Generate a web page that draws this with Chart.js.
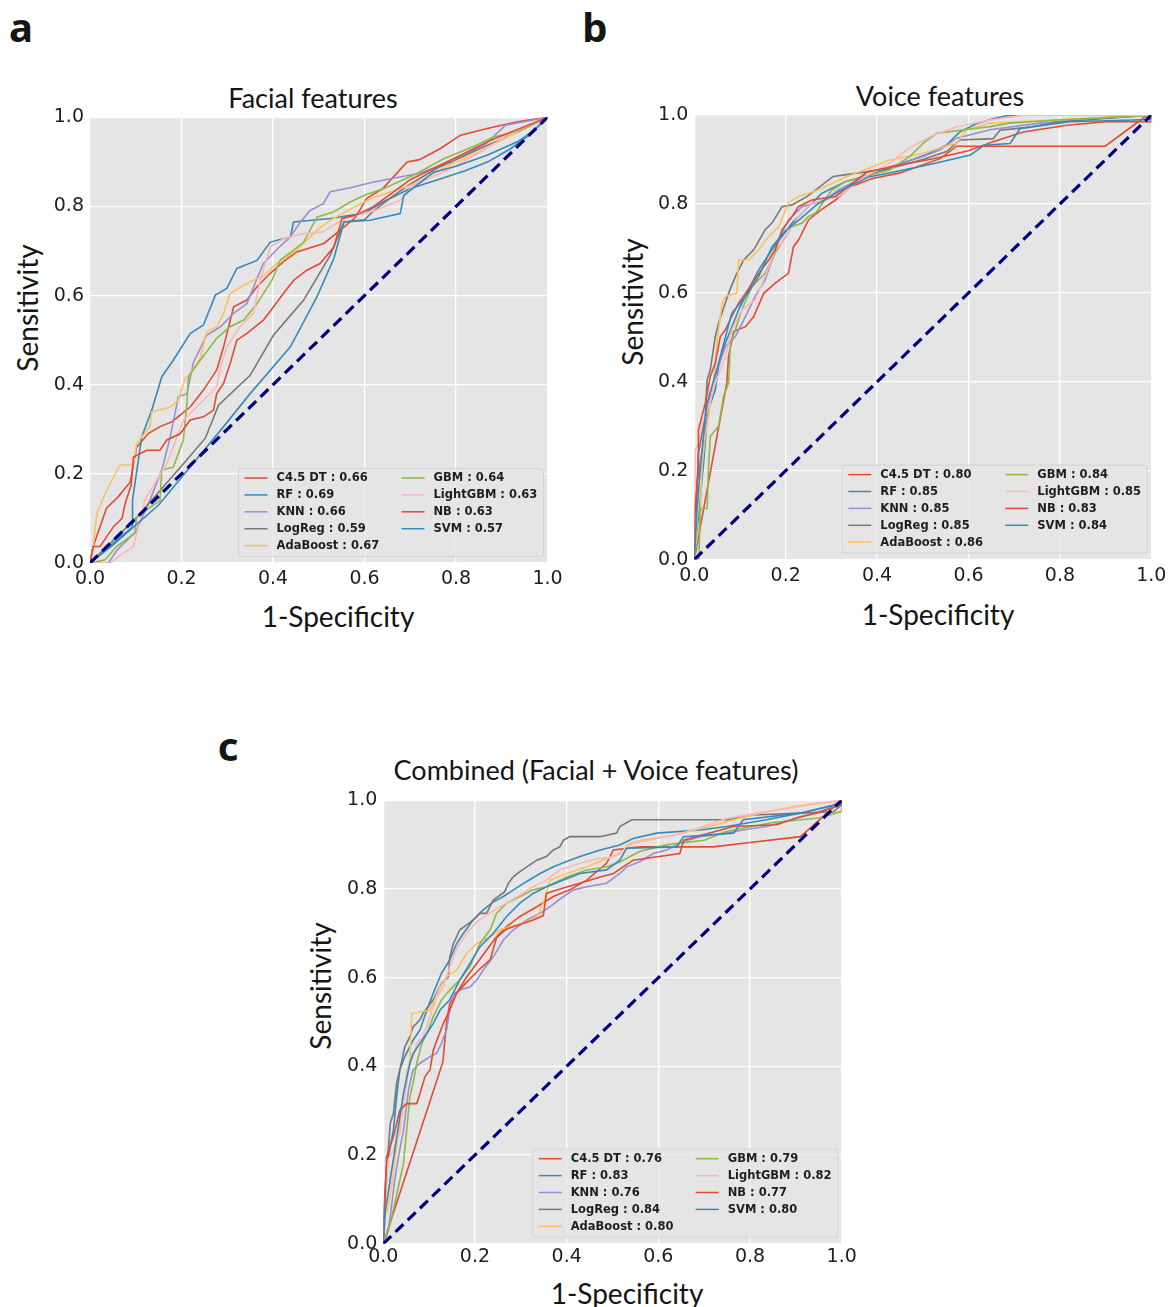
<!DOCTYPE html>
<html>
<head>
<meta charset="utf-8">
<title>ROC curves</title>
<script src="https://cdn.jsdelivr.net/npm/chart.js@4.4.1/dist/chart.umd.min.js"></script>
<style>
  html, body { margin: 0; padding: 0; background: #fff; }
  body { position: relative; width: 1168px; height: 1307px; overflow: hidden; }
  canvas { position: absolute; }
  .txt { position: absolute; white-space: nowrap; color: #151515; font-family: Lato, "Open Sans", sans-serif; font-size: 27px; transform: translate(-50%, -50%); line-height: 1; }
  .rot { transform: translate(-50%, -50%) rotate(-90deg); font-size: 28px; }
  .letter { font-family: "Noto Sans", sans-serif; font-weight: 700; font-size: 40px; }
</style>
</head>
<body>
<div class="txt letter" style="left:21px; top:27px;">a</div>
<div class="txt letter" style="left:595px; top:27px;">b</div>
<div class="txt letter" style="left:228px; top:746px;">c</div>

<div class="txt" style="left:313px; top:97px;">Facial features</div>
<div class="txt" style="left:940px; top:95px;">Voice features</div>
<div class="txt" style="left:596px; top:769px;">Combined (Facial + Voice features)</div>

<div class="txt rot" style="left:27px; top:308px;">Sensitivity</div>
<div class="txt rot" style="left:632px; top:302px;">Sensitivity</div>
<div class="txt rot" style="left:320px; top:986px;">Sensitivity</div>
<div class="txt" style="left:338px; top:616px; font-size:28px;">1-Specificity</div>
<div class="txt" style="left:938px; top:614px; font-size:28px;">1-Specificity</div>
<div class="txt" style="left:627px; top:1293px; font-size:28px;">1-Specificity</div>

<canvas id="facialChart" width="530" height="500" style="left:40px; top:100px;"></canvas>
<canvas id="voiceChart" width="532" height="500" style="left:636px; top:100px;"></canvas>
<canvas id="combinedChart" width="532" height="510" style="left:326px; top:785px;"></canvas>

<script>
// 모델 이름과 AUC 값
const modelNames = ['C4.5 DT', 'RF', 'KNN', 'LogReg', 'AdaBoost', 'GBM', 'LightGBM', 'NB', 'SVM'];
const facialAuc = ['0.66', '0.69', '0.66', '0.59', '0.67', '0.64', '0.63', '0.63', '0.57'];
const voiceAuc = ['0.80', '0.85', '0.85', '0.85', '0.86', '0.84', '0.85', '0.83', '0.84'];
const combinedAuc = ['0.76', '0.83', '0.76', '0.84', '0.80', '0.79', '0.82', '0.77', '0.80'];

// 축 눈금
const axisTicks = [0, 0.2, 0.4, 0.6, 0.8, 1.0];

// 대각선 (기준선)
const diagonalLine = [[0, 0], [1, 1]];

// a: 얼굴 특징 ROC 곡선 [1-특이도, 민감도]
const facialC45 = [[0,0],[0.007,0.037],[0.036,0.123],[0.062,0.149],[0.088,0.182],[0.102,0.26],[0.128,0.291],[0.153,0.306],[0.179,0.317],[0.219,0.35],[0.248,0.388],[0.277,0.433],[0.292,0.485],[0.314,0.575],[0.343,0.59],[0.365,0.62],[0.394,0.65],[0.423,0.676],[0.452,0.698],[0.511,0.717],[0.547,0.747],[0.58,0.775],[0.605,0.818],[0.64,0.84],[0.693,0.9],[0.72,0.905],[0.766,0.93],[0.81,0.96],[0.868,0.975],[0.934,0.99],[1,1]];
const facialRF = [[0,0],[0.093,0.081],[0.093,0.141],[0.113,0.283],[0.135,0.343],[0.157,0.418],[0.182,0.455],[0.219,0.515],[0.248,0.534],[0.274,0.601],[0.299,0.616],[0.321,0.661],[0.365,0.679],[0.394,0.72],[0.438,0.732],[0.445,0.765],[0.525,0.773],[0.6,0.785],[0.64,0.81],[0.7,0.84],[0.76,0.86],[0.82,0.88],[0.87,0.9],[0.92,0.93],[0.96,0.96],[1,1]];
const facialKNN = [[0,0],[0.04,0],[0.06,0.03],[0.1,0.07],[0.131,0.141],[0.157,0.209],[0.175,0.281],[0.193,0.373],[0.212,0.38],[0.226,0.45],[0.255,0.511],[0.285,0.53],[0.314,0.56],[0.343,0.582],[0.365,0.638],[0.379,0.672],[0.415,0.71],[0.438,0.732],[0.46,0.765],[0.481,0.791],[0.51,0.806],[0.525,0.833],[0.569,0.842],[0.62,0.855],[0.718,0.874],[0.79,0.9],[0.864,0.94],[0.908,0.982],[1,1]];
const facialLogReg = [[0,0],[0.1,0.1],[0.208,0.227],[0.252,0.28],[0.281,0.354],[0.35,0.421],[0.401,0.511],[0.467,0.59],[0.525,0.69],[0.555,0.765],[0.6,0.77],[0.62,0.79],[0.664,0.825],[0.7,0.85],[0.757,0.885],[0.81,0.91],[0.868,0.937],[0.934,0.967],[1,1]];
const facialAdaBoost = [[0,0],[0.007,0.037],[0.015,0.11],[0.033,0.156],[0.055,0.2],[0.066,0.22],[0.095,0.22],[0.102,0.268],[0.131,0.306],[0.135,0.339],[0.175,0.35],[0.193,0.365],[0.208,0.414],[0.219,0.425],[0.241,0.46],[0.255,0.519],[0.277,0.53],[0.292,0.56],[0.306,0.605],[0.35,0.631],[0.38,0.645],[0.408,0.672],[0.452,0.702],[0.496,0.747],[0.525,0.769],[0.58,0.8],[0.62,0.82],[0.711,0.851],[0.78,0.89],[0.85,0.922],[0.926,0.963],[1,1]];
const facialGBM = [[0,0],[0.033,0.007],[0.058,0.037],[0.098,0.067],[0.102,0.104],[0.153,0.14],[0.157,0.209],[0.182,0.215],[0.204,0.276],[0.212,0.36],[0.215,0.418],[0.241,0.455],[0.277,0.504],[0.306,0.53],[0.336,0.545],[0.365,0.582],[0.398,0.635],[0.416,0.68],[0.445,0.702],[0.467,0.72],[0.496,0.776],[0.533,0.788],[0.569,0.81],[0.6,0.825],[0.642,0.84],[0.707,0.87],[0.773,0.907],[0.84,0.935],[0.882,0.956],[0.94,0.97],[1,1]];
const facialLightGBM = [[0,0],[0.044,0],[0.07,0.02],[0.095,0.037],[0.12,0.141],[0.146,0.186],[0.168,0.223],[0.204,0.32],[0.233,0.35],[0.277,0.395],[0.285,0.44],[0.299,0.485],[0.328,0.53],[0.357,0.56],[0.372,0.634],[0.394,0.709],[0.423,0.728],[0.467,0.739],[0.51,0.743],[0.555,0.773],[0.62,0.79],[0.678,0.814],[0.707,0.847],[0.788,0.885],[0.854,0.922],[0.912,0.96],[1,1]];
const facialNB = [[0,0],[0.007,0.037],[0.022,0.037],[0.051,0.081],[0.07,0.1],[0.077,0.134],[0.09,0.175],[0.095,0.238],[0.124,0.253],[0.153,0.253],[0.168,0.276],[0.197,0.29],[0.219,0.321],[0.248,0.328],[0.27,0.343],[0.277,0.38],[0.292,0.403],[0.307,0.45],[0.321,0.5],[0.343,0.515],[0.379,0.545],[0.394,0.565],[0.423,0.605],[0.445,0.634],[0.474,0.657],[0.503,0.672],[0.533,0.709],[0.551,0.773],[0.58,0.78],[0.62,0.8],[0.66,0.83],[0.7,0.86],[0.76,0.89],[0.82,0.92],[0.88,0.95],[0.94,0.975],[1,1]];
const facialSVM = [[0,0],[0.05,0.04],[0.15,0.13],[0.292,0.306],[0.35,0.38],[0.438,0.485],[0.496,0.597],[0.533,0.683],[0.555,0.765],[0.612,0.769],[0.678,0.784],[0.686,0.825],[0.751,0.877],[0.8,0.89],[0.868,0.915],[0.934,0.945],[0.97,0.97],[1,1]];

// b: 음성 특징 ROC 곡선
const voiceC45 = [[0,0],[0.071,0.397],[0.075,0.457],[0.086,0.513],[0.112,0.524],[0.13,0.547],[0.152,0.599],[0.177,0.622],[0.206,0.644],[0.217,0.704],[0.228,0.719],[0.25,0.764],[0.275,0.785],[0.309,0.809],[0.341,0.838],[0.388,0.857],[0.45,0.87],[0.487,0.883],[0.538,0.902],[0.574,0.93],[0.899,0.93],[0.985,0.995],[1,1]];
const voiceRF = [[0,0],[0.006,0.04],[0.013,0.134],[0.024,0.262],[0.028,0.329],[0.046,0.382],[0.053,0.434],[0.068,0.487],[0.097,0.562],[0.126,0.622],[0.141,0.652],[0.17,0.697],[0.192,0.727],[0.214,0.757],[0.243,0.787],[0.279,0.824],[0.33,0.85],[0.4,0.87],[0.45,0.89],[0.505,0.91],[0.551,0.932],[0.581,0.962],[0.618,0.981],[0.654,0.992],[0.69,1],[1,1]];
const voiceKNN = [[0,0],[0.002,0.06],[0.006,0.17],[0.017,0.247],[0.031,0.352],[0.05,0.427],[0.068,0.479],[0.09,0.502],[0.112,0.547],[0.133,0.592],[0.155,0.629],[0.185,0.719],[0.206,0.764],[0.236,0.794],[0.287,0.809],[0.316,0.832],[0.37,0.86],[0.428,0.884],[0.501,0.907],[0.538,0.922],[0.574,0.948],[0.647,0.967],[0.756,0.982],[0.939,0.997],[1,1]];
const voiceLogReg = [[0,0],[0.002,0.059],[0.009,0.24],[0.024,0.322],[0.028,0.404],[0.035,0.427],[0.046,0.502],[0.053,0.532],[0.075,0.599],[0.09,0.637],[0.108,0.674],[0.13,0.697],[0.155,0.742],[0.17,0.757],[0.192,0.794],[0.214,0.798],[0.247,0.817],[0.304,0.862],[0.36,0.87],[0.428,0.88],[0.5,0.9],[0.552,0.918],[0.581,0.944],[0.654,0.947],[0.669,0.966],[0.735,0.973],[0.8,0.985],[1,1]];
const voiceAdaBoost = [[0,0],[0.002,0.022],[0.013,0.097],[0.017,0.209],[0.024,0.28],[0.031,0.322],[0.042,0.4],[0.05,0.494],[0.061,0.577],[0.068,0.592],[0.093,0.6],[0.097,0.674],[0.119,0.674],[0.141,0.697],[0.163,0.727],[0.185,0.749],[0.206,0.802],[0.228,0.817],[0.272,0.832],[0.33,0.86],[0.428,0.899],[0.501,0.914],[0.574,0.937],[0.596,0.967],[0.647,0.982],[0.793,0.989],[1,1]];
const voiceGBM = [[0,0],[0.01,0],[0.013,0.115],[0.028,0.115],[0.031,0.202],[0.035,0.277],[0.053,0.3],[0.064,0.367],[0.075,0.397],[0.079,0.487],[0.09,0.517],[0.104,0.562],[0.126,0.614],[0.155,0.644],[0.177,0.69],[0.214,0.749],[0.236,0.757],[0.25,0.772],[0.265,0.779],[0.3,0.83],[0.33,0.85],[0.428,0.877],[0.472,0.907],[0.501,0.937],[0.53,0.959],[0.647,0.974],[0.69,0.982],[0.793,0.989],[1,1]];
const voiceLightGBM = [[0,0],[0.002,0.247],[0.009,0.26],[0.017,0.307],[0.031,0.344],[0.046,0.397],[0.068,0.457],[0.082,0.517],[0.104,0.562],[0.133,0.584],[0.155,0.637],[0.177,0.697],[0.197,0.719],[0.214,0.749],[0.228,0.772],[0.257,0.802],[0.316,0.817],[0.37,0.86],[0.428,0.892],[0.465,0.922],[0.516,0.952],[0.574,0.974],[0.647,0.989],[0.72,1],[1,1]];
const voiceNB = [[0,0],[0.002,0.119],[0.009,0.209],[0.009,0.292],[0.024,0.352],[0.035,0.412],[0.046,0.442],[0.057,0.502],[0.068,0.517],[0.082,0.547],[0.097,0.577],[0.112,0.599],[0.141,0.644],[0.163,0.674],[0.177,0.697],[0.192,0.742],[0.214,0.772],[0.228,0.794],[0.257,0.809],[0.309,0.817],[0.378,0.872],[0.447,0.887],[0.523,0.902],[0.6,0.92],[0.654,0.94],[0.72,0.962],[0.815,0.977],[0.9,0.985],[1,0.985],[1,1]];
const voiceSVM = [[0,0],[0.006,0.112],[0.013,0.202],[0.024,0.322],[0.028,0.352],[0.053,0.442],[0.082,0.554],[0.112,0.592],[0.141,0.637],[0.17,0.704],[0.2,0.74],[0.23,0.765],[0.27,0.8],[0.32,0.83],[0.38,0.86],[0.45,0.875],[0.52,0.89],[0.604,0.91],[0.634,0.932],[0.691,0.936],[0.713,0.97],[0.822,0.985],[1,0.99],[1,1]];

// c: 결합 특징 ROC 곡선
const combinedC45 = [[0,0],[0.13,0.41],[0.138,0.5],[0.145,0.542],[0.16,0.565],[0.182,0.602],[0.204,0.632],[0.225,0.662],[0.247,0.692],[0.269,0.715],[0.298,0.738],[0.335,0.76],[0.371,0.783],[0.407,0.798],[0.444,0.82],[0.487,0.858],[0.502,0.888],[0.56,0.895],[0.72,0.895],[0.8,0.905],[0.91,0.918],[1,1]];
const combinedRF = [[0,0],[0.002,0.09],[0.007,0.174],[0.022,0.256],[0.029,0.33],[0.036,0.392],[0.047,0.422],[0.065,0.459],[0.08,0.482],[0.095,0.527],[0.109,0.565],[0.127,0.61],[0.145,0.64],[0.16,0.677],[0.175,0.7],[0.196,0.73],[0.218,0.753],[0.24,0.771],[0.262,0.783],[0.284,0.798],[0.313,0.817],[0.342,0.835],[0.371,0.85],[0.4,0.862],[0.429,0.873],[0.473,0.888],[0.516,0.899],[0.545,0.914],[0.596,0.926],[0.691,0.933],[0.749,0.941],[0.836,0.956],[0.909,0.971],[0.982,0.989],[1,1]];
const combinedKNN = [[0,0],[0.011,0.03],[0.015,0.061],[0.025,0.144],[0.033,0.196],[0.044,0.256],[0.055,0.347],[0.065,0.392],[0.08,0.407],[0.102,0.422],[0.116,0.429],[0.127,0.452],[0.138,0.482],[0.145,0.527],[0.156,0.565],[0.167,0.572],[0.189,0.579],[0.204,0.595],[0.218,0.617],[0.24,0.647],[0.262,0.685],[0.284,0.708],[0.313,0.73],[0.342,0.745],[0.364,0.76],[0.393,0.783],[0.415,0.798],[0.444,0.805],[0.487,0.813],[0.516,0.835],[0.531,0.85],[0.56,0.862],[0.589,0.88],[0.618,0.888],[0.655,0.907],[0.691,0.918],[0.749,0.926],[0.785,0.933],[0.836,0.941],[0.942,0.971],[1,0.993],[1,1]];
const combinedLogReg = [[0,0],[0.004,0.106],[0.007,0.144],[0.011,0.211],[0.015,0.271],[0.022,0.294],[0.029,0.362],[0.036,0.392],[0.047,0.444],[0.058,0.467],[0.065,0.489],[0.08,0.505],[0.087,0.52],[0.109,0.55],[0.127,0.587],[0.142,0.602],[0.145,0.647],[0.153,0.677],[0.167,0.708],[0.182,0.719],[0.196,0.73],[0.211,0.745],[0.225,0.745],[0.24,0.775],[0.265,0.794],[0.273,0.813],[0.284,0.828],[0.298,0.839],[0.313,0.85],[0.335,0.865],[0.356,0.873],[0.371,0.888],[0.385,0.895],[0.393,0.91],[0.407,0.918],[0.473,0.918],[0.509,0.926],[0.516,0.941],[0.542,0.956],[0.749,0.956],[0.807,0.967],[0.909,0.971],[0.982,0.974],[1,0.99],[1,1]];
const combinedAdaBoost = [[0,0],[0.004,0.061],[0.011,0.083],[0.022,0.159],[0.029,0.219],[0.044,0.332],[0.051,0.362],[0.058,0.414],[0.062,0.519],[0.102,0.527],[0.124,0.58],[0.138,0.602],[0.16,0.617],[0.182,0.655],[0.204,0.677],[0.233,0.692],[0.255,0.708],[0.276,0.715],[0.305,0.723],[0.335,0.738],[0.349,0.768],[0.364,0.82],[0.4,0.835],[0.444,0.85],[0.487,0.868],[0.516,0.88],[0.538,0.903],[0.567,0.911],[0.618,0.918],[0.662,0.929],[0.713,0.941],[0.764,0.956],[0.822,0.971],[0.895,0.986],[0.945,0.993],[1,1]];
const combinedGBM = [[0,0],[0.007,0.016],[0.015,0.046],[0.022,0.076],[0.036,0.143],[0.044,0.181],[0.051,0.256],[0.058,0.332],[0.065,0.362],[0.073,0.407],[0.084,0.452],[0.095,0.474],[0.109,0.512],[0.127,0.55],[0.145,0.572],[0.167,0.595],[0.189,0.625],[0.211,0.677],[0.233,0.708],[0.247,0.745],[0.269,0.768],[0.298,0.783],[0.327,0.798],[0.356,0.805],[0.4,0.827],[0.444,0.843],[0.487,0.85],[0.516,0.861],[0.56,0.885],[0.62,0.9],[0.7,0.91],[0.75,0.93],[0.85,0.95],[0.95,0.96],[1,0.975],[1,1]];
const combinedLightGBM = [[0,0],[0.007,0.136],[0.011,0.19],[0.022,0.211],[0.036,0.25],[0.047,0.332],[0.051,0.392],[0.065,0.42],[0.073,0.452],[0.087,0.467],[0.102,0.512],[0.116,0.557],[0.131,0.58],[0.145,0.624],[0.16,0.666],[0.182,0.7],[0.204,0.726],[0.225,0.741],[0.247,0.756],[0.269,0.768],[0.298,0.786],[0.327,0.805],[0.356,0.82],[0.385,0.843],[0.422,0.856],[0.465,0.868],[0.502,0.872],[0.545,0.903],[0.655,0.926],[0.749,0.959],[0.815,0.971],[0.909,0.986],[1,1]];
const combinedNB = [[0,0],[0.004,0.106],[0.007,0.196],[0.022,0.241],[0.029,0.271],[0.036,0.301],[0.051,0.316],[0.073,0.316],[0.08,0.339],[0.091,0.377],[0.102,0.392],[0.109,0.437],[0.12,0.467],[0.131,0.497],[0.145,0.527],[0.16,0.565],[0.182,0.59],[0.211,0.62],[0.233,0.64],[0.247,0.69],[0.269,0.71],[0.298,0.72],[0.327,0.73],[0.349,0.74],[0.356,0.79],[0.385,0.8],[0.429,0.813],[0.473,0.827],[0.502,0.835],[0.545,0.865],[0.647,0.88],[0.655,0.91],[0.764,0.941],[0.858,0.945],[0.909,0.963],[0.945,0.971],[1,0.99],[1,1]];
const combinedSVM = [[0,0],[0.004,0.07],[0.015,0.144],[0.025,0.211],[0.036,0.286],[0.044,0.339],[0.058,0.407],[0.065,0.429],[0.08,0.452],[0.095,0.474],[0.109,0.497],[0.124,0.527],[0.145,0.55],[0.167,0.595],[0.189,0.632],[0.211,0.67],[0.24,0.7],[0.269,0.738],[0.298,0.768],[0.327,0.79],[0.356,0.805],[0.393,0.82],[0.429,0.835],[0.487,0.843],[0.516,0.865],[0.531,0.892],[0.64,0.895],[0.655,0.918],[0.764,0.926],[0.785,0.956],[0.909,0.971],[1,0.993],[1,1]];

// 선 색상 (ggplot 스타일 순서)
const lineColors = ['#E24A33', '#348ABD', '#988ED5', '#777777', '#FBC15E', '#8EBA42', '#FFB5B8', '#E24A33', '#348ABD'];

function toPoints(arr) {
    return arr.map(p => ({ x: p[0], y: p[1] }));
}

// 플롯 영역 회색 배경
const plotBackground = {
    id: 'plotBackground',
    beforeDraw(chart) {
        const a = chart.chartArea;
        const ctx = chart.ctx;
        ctx.save();
        ctx.fillStyle = '#E5E5E5';
        ctx.fillRect(a.left, a.top, a.right - a.left, a.bottom - a.top);
        ctx.restore();
    }
};

// 2열 범례 (오른쪽 아래)
const rocLegend = {
    id: 'rocLegend',
    afterDatasetsDraw(chart) {
        const a = chart.chartArea;
        const ctx = chart.ctx;
        const w = 305, h = 88;
        const left = a.right - 4 - w;
        const top = a.bottom - 6.5 - h;
        ctx.save();
        ctx.beginPath();
        if (ctx.roundRect) ctx.roundRect(left, top, w, h, 3);
        else ctx.rect(left, top, w, h);
        ctx.fillStyle = 'rgba(229,229,229,0.8)';
        ctx.fill();
        ctx.strokeStyle = '#d4d4d4';
        ctx.lineWidth = 1;
        ctx.stroke();
        const items = chart.data.datasets.filter(d => d.legendText);
        items.forEach((d, i) => {
            const col = i < 5 ? 0 : 1;
            const row = i < 5 ? i : i - 5;
            const x = left + (col ? 163 : 6);
            const y = top + 9.5 + row * 16.9;
            ctx.strokeStyle = d.borderColor;
            ctx.lineWidth = 1.5;
            ctx.beginPath();
            ctx.moveTo(x, y);
            ctx.lineTo(x + 23, y);
            ctx.stroke();
            ctx.fillStyle = '#1e1e1e';
            ctx.font = 'bold 11.5px "DejaVu Sans"';
            ctx.textBaseline = 'middle';
            ctx.textAlign = 'left';
            ctx.fillText(d.legendText, x + 32, y + 0.5);
        });
        ctx.restore();
    }
};

function axisOptions(isX, size, tickPad) {
    return {
        type: 'linear',
        min: 0,
        max: 1,
        afterBuildTicks: s => { s.ticks = axisTicks.map(v => ({ value: v })); },
        afterFit: s => {
            if (isX) { s.height = size; s.paddingLeft = 0; s.paddingRight = 0; }
            else { s.width = size; s.paddingTop = 0; s.paddingBottom = 0; }
        },
        ticks: {
            padding: tickPad,
            color: '#1e1e1e',
            maxRotation: 0,
            autoSkip: false,
            font: { family: 'DejaVu Sans', size: 19 },
            callback: v => v.toFixed(1)
        },
        grid: { color: '#ffffff', lineWidth: 1.3, drawTicks: false },
        border: { display: false }
    };
}

// ROC 차트 생성
function makeRocChart(canvasId, curves, aucs, layout) {
    const datasets = curves.map((c, i) => ({
        label: modelNames[i],
        legendText: modelNames[i] + ' : ' + aucs[i],
        data: toPoints(c),
        borderColor: lineColors[i],
        borderWidth: 1.6,
        pointRadius: 0,
        tension: 0,
        fill: false,
        order: 10 - i
    }));
    datasets.push({
        label: 'chance',
        data: toPoints(diagonalLine),
        borderColor: '#000080',
        borderWidth: 3.2,
        borderDash: [11, 6],
        pointRadius: 0,
        fill: false,
        order: 0
    });
    const ctx = document.getElementById(canvasId).getContext('2d');
    return new Chart(ctx, {
        type: 'line',
        data: { datasets },
        options: {
            responsive: false,
            animation: false,
            layout: { padding: { left: 0, top: layout.top, right: layout.right, bottom: 0 } },
            scales: {
                x: axisOptions(true, layout.xHeight, layout.xPad),
                y: axisOptions(false, layout.yWidth, 6)
            },
            plugins: {
                legend: { display: false },
                tooltip: { enabled: false }
            }
        },
        plugins: [plotBackground, rocLegend]
    });
}

document.addEventListener('DOMContentLoaded', function() {
    makeRocChart('facialChart',
        [facialC45, facialRF, facialKNN, facialLogReg, facialAdaBoost, facialGBM, facialLightGBM, facialNB, facialSVM],
        facialAuc, { top: 17.3, right: 22.5, yWidth: 50, xHeight: 37, xPad: 5 });
    makeRocChart('voiceChart',
        [voiceC45, voiceRF, voiceKNN, voiceLogReg, voiceAdaBoost, voiceGBM, voiceLightGBM, voiceNB, voiceSVM],
        voiceAuc, { top: 15.1, right: 16.7, yWidth: 58.3, xHeight: 40.4, xPad: 5 });
    makeRocChart('combinedChart',
        [combinedC45, combinedRF, combinedKNN, combinedLogReg, combinedAdaBoost, combinedGBM, combinedLightGBM, combinedNB, combinedSVM],
        combinedAuc, { top: 15.3, right: 16.3, yWidth: 57.3, xHeight: 51.3, xPad: 2 });
});
</script>
</body>
</html>
